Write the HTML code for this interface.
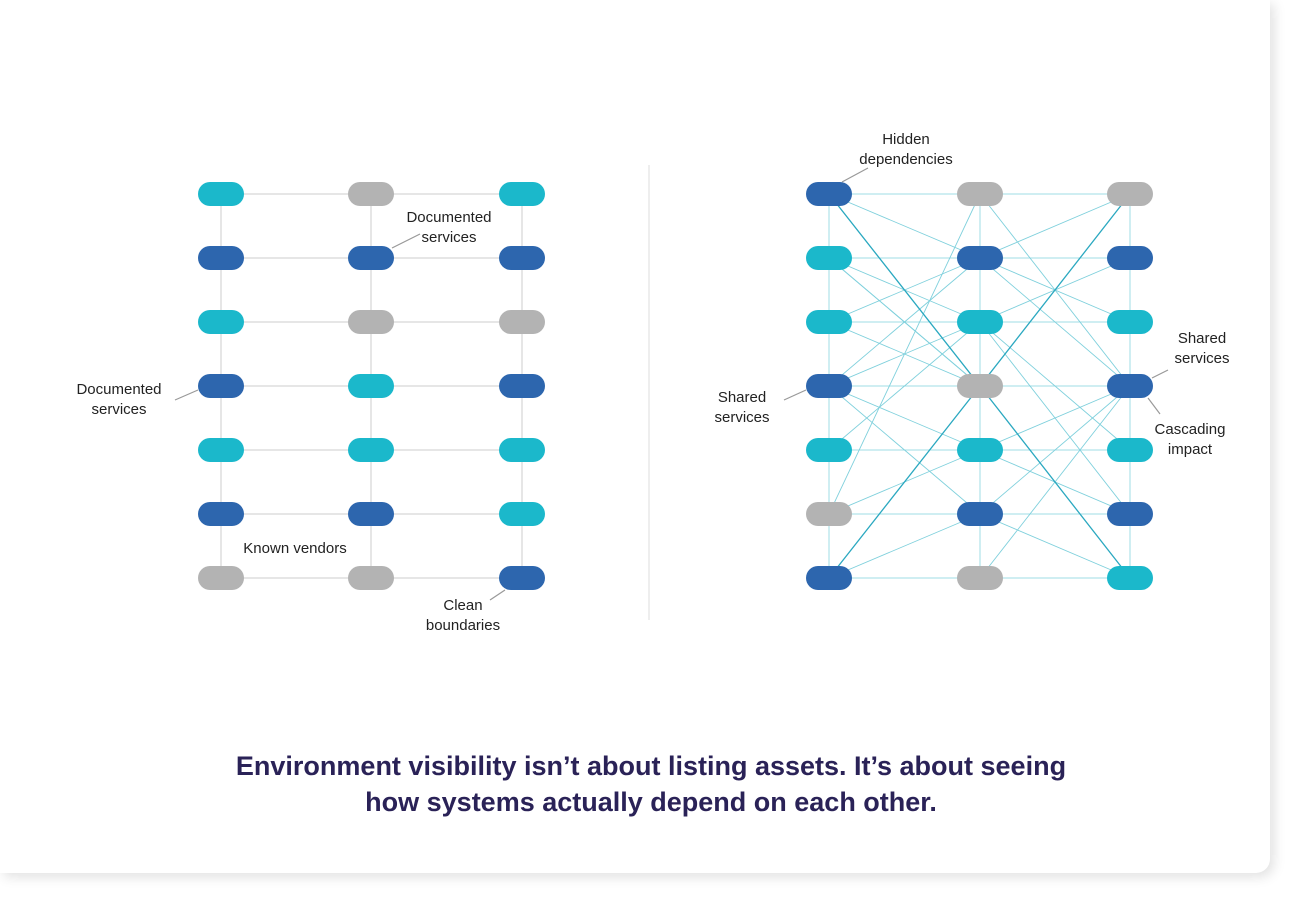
<!DOCTYPE html>
<html><head><style>
body{margin:0;background:#fff;}
.card{position:absolute;left:0;top:0;width:1270px;height:873px;background:#fff;border-radius:0 0 14px 0;box-shadow:4px 4px 12px rgba(0,0,0,0.12);}
svg{position:absolute;left:0;top:0}
text{font-family:"Liberation Sans",sans-serif;font-size:15px;fill:#222;}
</style></head><body>
<div class="card"></div>
<svg width="1301" height="901" viewBox="0 0 1301 901">
<line x1="649" y1="165" x2="649" y2="620" stroke="#ddd" stroke-width="1"/>
<g id="L" stroke="#d6d6d6" stroke-width="1.2"></g>
<g id="R"></g>
<g id="N"></g>
<g stroke="#999" stroke-width="1.2">
<line x1="392" y1="248" x2="420" y2="234"/>
<line x1="175" y1="400" x2="198" y2="390"/>
<line x1="505" y1="590" x2="490" y2="600"/>
<line x1="842" y1="182" x2="868" y2="168"/>
<line x1="784" y1="400" x2="806" y2="390"/>
<line x1="1152" y1="378" x2="1168" y2="370"/>
<line x1="1148" y1="398" x2="1160" y2="414"/>
</g>
<g text-anchor="middle">
<text x="449" y="222">Documented</text><text x="449" y="242">services</text>
<text x="119" y="394">Documented</text><text x="119" y="414">services</text>
<text x="295" y="553">Known vendors</text>
<text x="463" y="610">Clean</text><text x="463" y="630">boundaries</text>
<text x="906" y="144">Hidden</text><text x="906" y="164">dependencies</text>
<text x="742" y="402">Shared</text><text x="742" y="422">services</text>
<text x="1202" y="343">Shared</text><text x="1202" y="363">services</text>
<text x="1190" y="434">Cascading</text><text x="1190" y="454">impact</text>
<text x="651" y="775" style="font-size:27px;font-weight:bold;fill:#2a2257">Environment visibility isn’t about listing assets. It’s about seeing</text>
<text x="651" y="811" style="font-size:27px;font-weight:bold;fill:#2a2257">how systems actually depend on each other.</text>
</g>
</svg>
<script>
const NS="http://www.w3.org/2000/svg";
const T="#1bb8cb",D="#2d66ae",G="#b3b3b3";
const ry=i=>194+64*i;
const LX=[221,371,522],RX=[829,980,1130];
const Lc=[[T,G,T],[D,D,D],[T,G,G],[D,T,D],[T,T,T],[D,D,T],[G,G,D]];
const Rc=[[D,G,G],[T,D,D],[T,T,T],[D,G,D],[T,T,T],[G,D,D],[D,G,T]];
function ln(g,x1,y1,x2,y2,c,w){const l=document.createElementNS(NS,"line");l.setAttribute("x1",x1);l.setAttribute("y1",y1);l.setAttribute("x2",x2);l.setAttribute("y2",y2);if(c)l.setAttribute("stroke",c);if(w)l.setAttribute("stroke-width",w);document.getElementById(g).appendChild(l);}
for(let i=0;i<7;i++){ln("L",LX[0],ry(i),LX[2],ry(i));ln("R",RX[0],ry(i),RX[2],ry(i),"#9fdde6",1);}
for(let j=0;j<3;j++){ln("L",LX[j],ry(0),LX[j],ry(6));ln("R",RX[j],ry(0),RX[j],ry(6),"#9fdde6",1);}
const light=[["A0","B1"],["A1","B2"],["A1","B3"],["A2","B1"],["A3","B1"],["A3","B2"],["A3","B4"],["A3","B5"],["A5","B0"],["A5","B4"],["A6","B5"],["B0","C3"],["B1","C0"],["B1","C2"],["B1","C3"],["B2","C1"],["B2","C4"],["B4","C3"],["B4","C5"],["B5","C3"],["B5","C6"],["B6","C3"],["A4","B2"],["A1","B3"],["B2","C5"],["A2","B3"],["A0","B3"]];
const P=s=>[RX["ABC".indexOf(s[0])],ry(+s[1])];
light.forEach(([a,b])=>{const p=P(a),q=P(b);ln("R",p[0],p[1],q[0],q[1],"#7fd0dc",0.9);});
[["A0","B3"],["B3","C0"],["B3","A6"],["B3","C6"]].forEach(([a,b])=>{const p=P(a),q=P(b);ln("R",p[0],p[1],q[0],q[1],"#2aa8c0",1.3);});
function pill(x,y,c){const r=document.createElementNS(NS,"rect");r.setAttribute("x",x-23);r.setAttribute("y",y-12);r.setAttribute("width",46);r.setAttribute("height",24);r.setAttribute("rx",12);r.setAttribute("fill",c);document.getElementById("N").appendChild(r);}
for(let i=0;i<7;i++)for(let j=0;j<3;j++){pill(LX[j],ry(i),Lc[i][j]);pill(RX[j],ry(i),Rc[i][j]);}
</script>
</body></html>
